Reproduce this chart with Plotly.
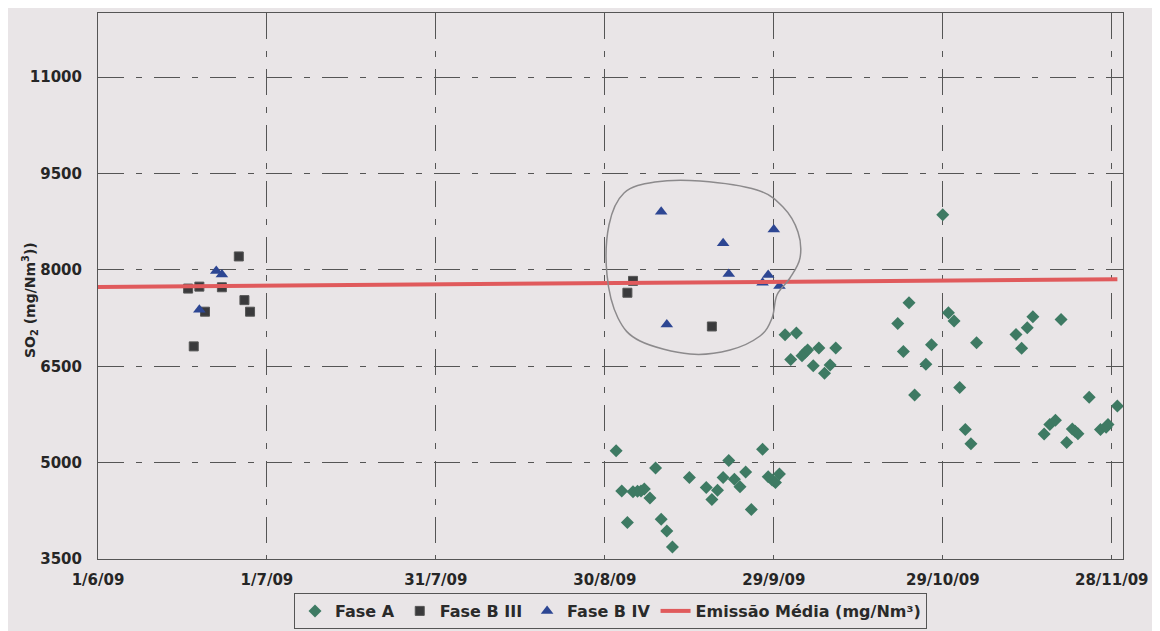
import plotly.graph_objects as go

# Fase A (diamonds)
fase_a_dates = [
    "2009-09-01", "2009-09-02", "2009-09-03", "2009-09-04", "2009-09-04 19:00",
    "2009-09-05 10:00", "2009-09-06", "2009-09-07", "2009-09-08", "2009-09-09",
    "2009-09-10", "2009-09-11", "2009-09-14", "2009-09-17", "2009-09-18",
    "2009-09-19", "2009-09-20", "2009-09-21", "2009-09-22", "2009-09-23",
    "2009-09-24", "2009-09-25", "2009-09-27", "2009-09-28", "2009-09-28 17:00",
    "2009-09-29 07:00", "2009-09-30",
    "2009-10-01", "2009-10-02", "2009-10-03", "2009-10-04", "2009-10-04 14:00",
    "2009-10-05", "2009-10-06", "2009-10-07", "2009-10-08", "2009-10-09",
    "2009-10-10",
    "2009-10-21", "2009-10-22", "2009-10-23", "2009-10-24", "2009-10-26",
    "2009-10-27", "2009-10-29", "2009-10-30", "2009-10-31", "2009-11-01",
    "2009-11-02", "2009-11-03", "2009-11-04", "2009-11-11", "2009-11-12",
    "2009-11-13", "2009-11-14", "2009-11-16", "2009-11-17", "2009-11-18",
    "2009-11-19", "2009-11-20", "2009-11-21", "2009-11-21 12:00", "2009-11-22",
    "2009-11-24", "2009-11-26", "2009-11-27", "2009-11-27 08:00", "2009-11-29",
]
fase_a_vals = [
    5185, 4560, 4070, 4545, 4555,
    4560, 4590, 4450, 4915, 4120,
    3935, 3685, 4770, 4615, 4425,
    4570, 4770, 5035, 4740, 4625,
    4855, 4270, 5210, 4780, 4730,
    4690, 4825,
    6990, 6605, 7020, 6665, 6720,
    6755, 6510, 6785, 6390, 6520,
    6785,
    7165, 6730, 7490, 6055, 6530,
    6835, 8860, 7335, 7205, 6170,
    5515, 5295, 6865, 6995, 6780,
    7100, 7270, 5445, 5595, 5660,
    7230, 5315, 5525, 5490, 5450,
    6020, 5515, 5550, 5595, 5880,
]

# Fase B III (squares)
fase_b3_dates = [
    "2009-06-17", "2009-06-18", "2009-06-19", "2009-06-20", "2009-06-23",
    "2009-06-26", "2009-06-27", "2009-06-28",
    "2009-09-03", "2009-09-04", "2009-09-18",
]
fase_b3_vals = [
    7710, 6810, 7740, 7350, 7730,
    8210, 7530, 7350,
    7645, 7830, 7120,
]

# Fase B IV (triangles)
fase_b4_dates = [
    "2009-06-19", "2009-06-22", "2009-06-23",
    "2009-09-09", "2009-09-10", "2009-09-20", "2009-09-21", "2009-09-27",
    "2009-09-28", "2009-09-29", "2009-09-30",
]
fase_b4_vals = [
    7380, 7985, 7930,
    8905, 7150, 8415, 7935, 7800,
    7920, 8630, 7750,
]

# Emissao media
media_dates = ["2009-06-01", "2009-11-29"]
media_vals = [7735, 7855]

tick_dates = ["2009-06-01", "2009-07-01", "2009-07-31", "2009-08-30",
              "2009-09-29", "2009-10-29", "2009-11-28"]
tick_labels = ["1/6/09", "1/7/09", "31/7/09", "30/8/09",
               "29/9/09", "29/10/09", "28/11/09"]
y_ticks = [3500, 5000, 6500, 8000, 9500, 11000]

BG = "#e9e5e7"
GRID = "#555555"
FONT = "DejaVu Sans"

fig = go.Figure()
fig.add_trace(
    go.Scatter(
        x=fase_a_dates,
        y=fase_a_vals,
        mode="markers",
        name="Fase A",
        marker=dict(symbol="diamond", size=10, color="#3e7a63")
    )
)
fig.add_trace(
    go.Scatter(
        x=fase_b3_dates,
        y=fase_b3_vals,
        mode="markers",
        name="Fase B III",
        marker=dict(symbol="square", size=9, color="#3a3a3c",
                    line=dict(color="#555555", width=1))
    )
)
fig.add_trace(
    go.Scatter(
        x=fase_b4_dates,
        y=fase_b4_vals,
        mode="markers",
        name="Fase B IV",
        marker=dict(symbol="triangle-up", size=11, color="#2d4693")
    )
)
fig.add_trace(
    go.Scatter(
        x=media_dates,
        y=media_vals,
        mode="lines",
        name="Emissão Média (mg/Nm³)",
        line=dict(color="#e05a5c", width=4)
    )
)

# hand-drawn outline around the September cluster (plot-area fractions)
L, R, T, B = 98, 1123, 13, 559
outline_px = [
    (700, 181), (757, 190), (783, 207), (798, 232), (800, 258), (790, 278),
    (777, 295), (772, 318), (760, 336), (730, 350), (690, 354), (640, 341),
    (618, 318), (607, 275), (609, 225), (624, 193), (655, 182),
]
pts = [((x - L) / (R - L), (B - y) / (B - T)) for x, y in outline_px]
n = len(pts)
path = "M %.4f,%.4f" % pts[0]
for i in range(n):
    p0, p1, p2, p3 = pts[i - 1], pts[i], pts[(i + 1) % n], pts[(i + 2) % n]
    c1 = (p1[0] + (p2[0] - p0[0]) / 6, p1[1] + (p2[1] - p0[1]) / 6)
    c2 = (p2[0] - (p3[0] - p1[0]) / 6, p2[1] - (p3[1] - p1[1]) / 6)
    path += " C %.4f,%.4f %.4f,%.4f %.4f,%.4f" % (c1 + c2 + p2)
path += " Z"
fig.add_shape(type="path", path=path, xref="paper", yref="paper",
              line=dict(color="#8c8a8c", width=1.5))

# y axis title, placed like the original
fig.add_annotation(
    text="<b>SO<sub>2</sub> (mg/Nm<sup>3</sup>))</b>",
    xref="paper", yref="paper",
    x=(30 - L) / (R - L), y=(B - 300) / (B - T),
    xanchor="center", yanchor="middle",
    textangle=-90, showarrow=False,
    font=dict(family=FONT, size=14, color="#262626"),
)

# the html page body adds an 8px offset, so margins are shifted by 8
OFF = 8
fig.update_layout(
    width=1160,
    height=631,
    paper_bgcolor=BG,
    plot_bgcolor=BG,
    margin=dict(l=L - OFF, r=1160 + OFF - R, t=T - OFF, b=631 + OFF - B),
    font=dict(family=FONT, size=14, color="#262626"),
    showlegend=True,
    legend=dict(
        orientation="h",
        x=0.5,
        xanchor="center",
        yref="container",
        y=1 - (593 - OFF) / 631,
        yanchor="top",
        bgcolor=BG,
        bordercolor="#555555",
        borderwidth=1,
        font=dict(family=FONT, size=16, color="#2a2a2a", weight="bold"),
        itemwidth=30,
        tracegroupgap=0,
    ),
)

fig.update_xaxes(
    type="date",
    range=["2009-06-01", "2009-11-30"],
    tickvals=tick_dates,
    ticktext=tick_labels,
    tickfont=dict(family=FONT, size=15, weight="bold"),
    ticklabelstandoff=7,
    automargin=False,
    showgrid=True,
    gridcolor=GRID,
    gridwidth=1,
    griddash="26px,12px,6px,12px",
    showline=True,
    linecolor="#555555",
    linewidth=1,
    mirror=True,
    zeroline=False,
)
fig.update_yaxes(
    range=[3500, 12000],
    tickvals=y_ticks,
    tickformat="d",
    tickfont=dict(family=FONT, size=15, weight="bold"),
    ticklabelstandoff=12,
    automargin=False,
    showgrid=True,
    gridcolor=GRID,
    gridwidth=1,
    griddash="26px,12px,6px,12px",
    showline=True,
    linecolor="#555555",
    linewidth=1,
    mirror=True,
    zeroline=False,
)

fig.write_html("out.html")
